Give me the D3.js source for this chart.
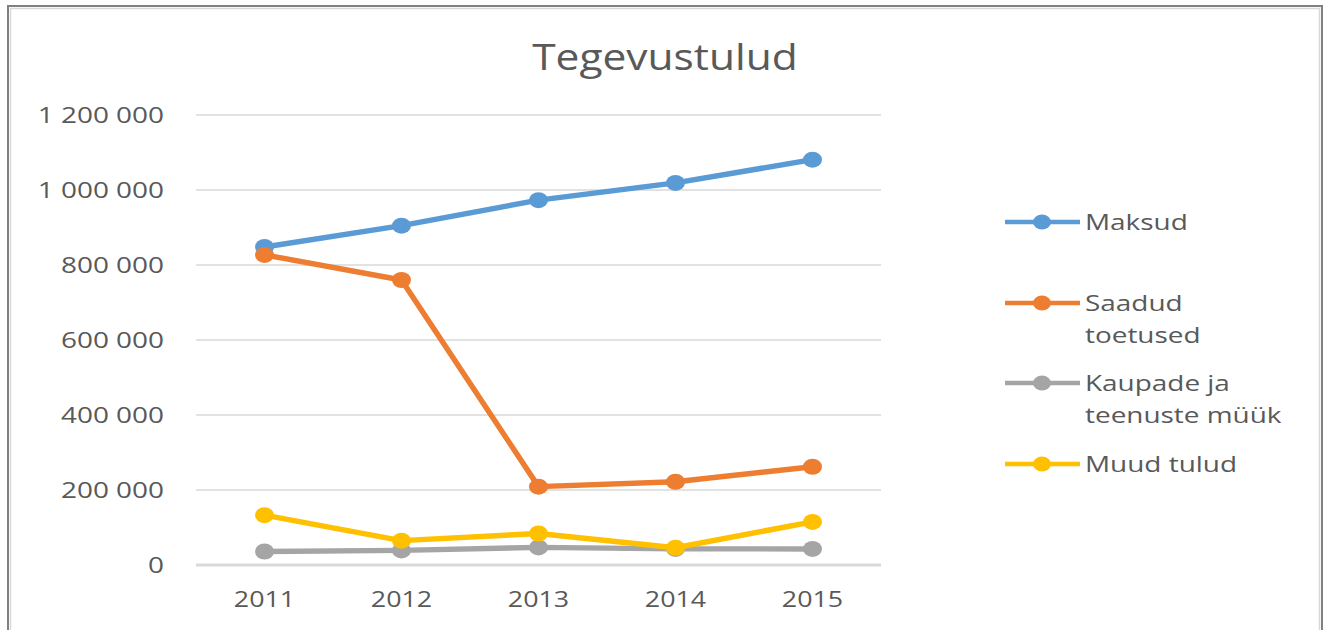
<!DOCTYPE html>
<html>
<head>
<meta charset="utf-8">
<script src="https://cdn.jsdelivr.net/npm/d3@7"></script>
<style>
  body { margin: 0; background: #fff; }
  svg { display: block; font-family: "Open Sans", sans-serif; }
</style>
</head>
<body>
<svg width="1330" height="630"></svg>
<script>
// data
var years = ["2011", "2012", "2013", "2014", "2015"];
var maksud = [848000, 905000, 973000, 1019000, 1081000];
var saadudToetused = [827000, 760000, 209000, 222000, 262000];
var kaupadeMyyk = [36000, 39000, 47000, 43000, 43000];
var muudTulud = [133000, 65000, 84000, 46000, 115000];
var yTicks = [0, 200000, 400000, 600000, 800000, 1000000, 1200000];

var seriesNames = [["Maksud"], ["Saadud", "toetused"], ["Kaupade ja", "teenuste müük"], ["Muud tulud"]];
var seriesValues = [maksud, saadudToetused, kaupadeMyyk, muudTulud];
var colors = ["#5b9bd5", "#ed7d31", "#a5a5a5", "#ffc000"];

var svg = d3.select("svg");

// frame
svg.append("rect").attr("x", 8).attr("y", 6).attr("width", 1314).attr("height", 640)
    .attr("fill", "none").attr("stroke", "#808080").attr("stroke-width", 2);
svg.append("rect").attr("x", 10.5).attr("y", 8.5).attr("width", 1309).attr("height", 640)
    .attr("fill", "none").attr("stroke", "#d9d9d9").attr("stroke-width", 1.5);

var x = d3.scaleBand().domain(years).range([196, 881]);
var y = d3.scaleLinear().domain([0, 1200000]).range([565, 115]);

function fmt(v) {
    return d3.format(",")(v).replace(/,/g, " ");
}

// stretched text helper (the picture is wider than the glyphs would be)
function label(parent, tx, ty, txt, size, anchor, sx) {
    return parent.append("text")
        .attr("transform", "translate(" + tx + "," + ty + ") scale(" + sx + ",1)")
        .attr("text-anchor", anchor)
        .attr("font-size", size)
        .attr("fill", "#595959")
        .text(txt);
}

// gridlines
svg.append("g").selectAll("line")
    .data(yTicks)
    .enter()
    .append("line")
    .attr("x1", 196).attr("x2", 881)
    .attr("y1", d => y(d)).attr("y2", d => y(d))
    .attr("stroke", "#d9d9d9")
    .attr("stroke-width", d => d === 0 ? 3 : 1.5);

// y labels
var yg = svg.append("g");
yTicks.forEach(function (t) {
    label(yg, 164, y(t) + 8, fmt(t), 22, "end", 1.27);
});

// x labels
var xg = svg.append("g");
years.forEach(function (yr) {
    label(xg, x(yr) + x.bandwidth() / 2, 607, yr, 22, "middle", 1.22);
});

// title
label(svg, 665, 70, "Tegevustulud", 36, "middle", 1.18);

// series
var line = d3.line()
    .x((d, i) => x(years[i]) + x.bandwidth() / 2)
    .y(d => y(d));

seriesValues.forEach(function (vals, k) {
    var g = svg.append("g");
    g.append("path")
        .datum(vals)
        .attr("d", line)
        .attr("fill", "none")
        .attr("stroke", colors[k])
        .attr("stroke-width", 5.5)
        .attr("stroke-linejoin", "round");
    g.selectAll("ellipse")
        .data(vals)
        .enter()
        .append("ellipse")
        .attr("cx", (d, i) => x(years[i]) + x.bandwidth() / 2)
        .attr("cy", d => y(d))
        .attr("rx", 9.5)
        .attr("ry", 8)
        .attr("fill", colors[k]);
});

// legend
var legendY = [222, 303, 383, 464];
var lg = svg.append("g");
seriesNames.forEach(function (lines, k) {
    var ly = legendY[k];
    lg.append("line")
        .attr("x1", 1005).attr("x2", 1080)
        .attr("y1", ly).attr("y2", ly)
        .attr("stroke", colors[k]).attr("stroke-width", 4.5);
    lg.append("ellipse")
        .attr("cx", 1042).attr("cy", ly)
        .attr("rx", 9).attr("ry", 7.5)
        .attr("fill", colors[k]);
    lines.forEach(function (txt, j) {
        label(lg, 1085, ly + 8 + j * 32, txt, 22, "start", 1.27);
    });
});
</script>
</body>
</html>
